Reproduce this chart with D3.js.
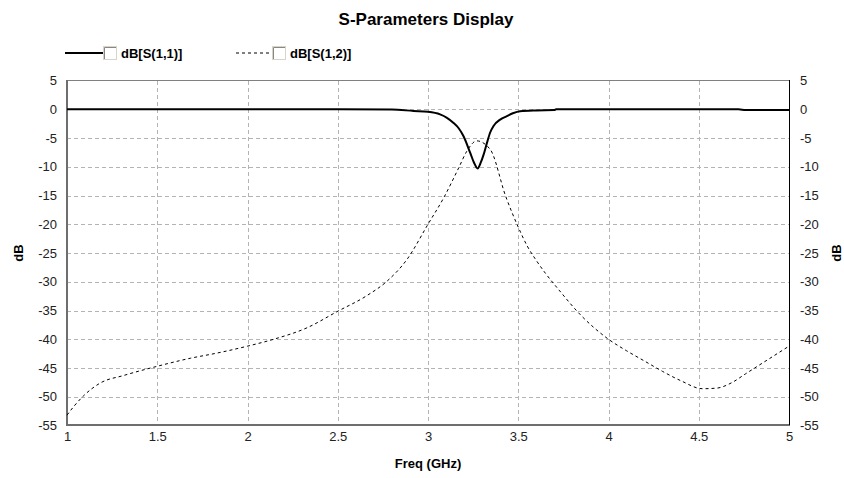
<!DOCTYPE html>
<html>
<head>
<meta charset="utf-8">
<script src="https://cdn.jsdelivr.net/npm/d3@7"></script>
<style>
  body { margin: 0; background: #fff; }
  svg { display: block; font-family: "Liberation Sans", Arial, sans-serif; }
</style>
</head>
<body>
<div id="chart"></div>
<script>
// --- Data ---
const freqTicks = [1, 1.5, 2, 2.5, 3, 3.5, 4, 4.5, 5];
const dbTicks = [5, 0, -5, -10, -15, -20, -25, -30, -35, -40, -45, -50, -55];

const s11Freq = [1.0, 1.5, 2.0, 2.5, 2.8, 2.92, 3.0, 3.067, 3.105, 3.14, 3.17, 3.197, 3.234, 3.255, 3.275, 3.292, 3.308, 3.327, 3.345, 3.363, 3.4, 3.437, 3.47, 3.51, 3.6, 3.7, 3.71, 4.0, 4.5, 4.72, 4.76, 5.0];
const s11Db = [0, 0, 0, 0, -0.05, -0.3, -0.45, -0.9, -1.5, -2.35, -3.3, -4.7, -7.6, -9.3, -10.3, -9.3, -7.9, -5.8, -4.0, -2.9, -1.8, -1.2, -0.7, -0.33, -0.2, -0.15, 0, 0, 0, 0, -0.15, -0.15];

const s12Freq = [1.0, 1.04, 1.093, 1.185, 1.314, 1.5, 1.684, 1.832, 2.0, 2.145, 2.33, 2.496, 2.662, 2.773, 2.884, 3.0, 3.087, 3.17, 3.215, 3.27, 3.345, 3.43, 3.5, 3.55, 3.6, 3.65, 3.73, 3.84, 4.0, 4.1, 4.2, 4.3, 4.4, 4.52, 4.6, 4.68, 4.76, 4.88, 5.0];
const s12Db = [-53.2, -51.6, -49.8, -47.6, -46.3, -44.7, -43.3, -42.4, -41.2, -40.0, -38.0, -35.2, -32.4, -29.9, -26.1, -20.0, -15.4, -10.2, -7.3, -5.5, -7.0, -15.1, -20.5, -23.8, -26.3, -28.5, -31.6, -35.6, -40.0, -42.0, -43.8, -45.6, -47.2, -48.6, -48.5, -47.6, -46.0, -43.6, -41.2];

const seriesNames = ["dB[S(1,1)]", "dB[S(1,2)]"];

// --- Layout ---
const width = 844, height = 478;
const plot = { left: 67, right: 789, top: 80.5, bottom: 425.5 };

const svg = d3.select("#chart").append("svg")
  .attr("width", width)
  .attr("height", height);

const x = d3.scaleLinear().domain([1, 5]).range([plot.left, plot.right]);
const y = d3.scaleLinear().domain([5, -55]).range([plot.top, plot.bottom]);
const fmt = d => String(d); // plain hyphen for negatives

// --- Grid ---
const grid = svg.append("g").attr("stroke", "#b4b4b4").attr("stroke-dasharray", "4,3").attr("shape-rendering", "crispEdges");
grid.selectAll("line.v").data(freqTicks.slice(1, -1)).join("line")
  .attr("class", "v")
  .attr("x1", d => Math.round(x(d)) + 0.5).attr("x2", d => Math.round(x(d)) + 0.5)
  .attr("y1", plot.top).attr("y2", plot.bottom);
grid.selectAll("line.h").data(dbTicks.slice(1, -1)).join("line")
  .attr("class", "h")
  .attr("x1", plot.left).attr("x2", plot.right)
  .attr("y1", d => Math.round(y(d)) + 0.5).attr("y2", d => Math.round(y(d)) + 0.5);

// --- Frame ---
const frame = svg.append("g").attr("shape-rendering", "crispEdges");
frame.append("line").attr("x1", plot.left).attr("x2", plot.right).attr("y1", 80.5).attr("y2", 80.5).attr("stroke", "#808080");
frame.append("line").attr("x1", plot.left - 1).attr("x2", plot.right + 1).attr("y1", 425).attr("y2", 425).attr("stroke", "#6e6e6e").attr("stroke-width", 2);
frame.append("line").attr("x1", plot.left - 0.5).attr("x2", plot.left - 0.5).attr("y1", 80).attr("y2", 425).attr("stroke", "#6e6e6e").attr("stroke-width", 2);
frame.append("line").attr("x1", plot.right + 0.5).attr("x2", plot.right + 0.5).attr("y1", 80).attr("y2", 425).attr("stroke", "#000");

// --- Axes (labels only) ---
const axisFont = g => g.call(s => s.select(".domain").remove())
  .call(s => s.selectAll(".tick line").remove())
  .call(s => s.selectAll("text").attr("font-size", 13).attr("fill", "#222").attr("font-family", "'Liberation Sans', Arial, sans-serif"));

svg.append("g").attr("transform", `translate(${plot.left - 10},0)`)
  .call(d3.axisLeft(y).tickValues(dbTicks).tickSize(0).tickPadding(0).tickFormat(fmt))
  .call(axisFont);
svg.append("g").attr("transform", `translate(${plot.right + 11},0)`)
  .call(d3.axisRight(y).tickValues(dbTicks).tickSize(0).tickPadding(0).tickFormat(fmt))
  .call(axisFont);
svg.append("g").attr("transform", `translate(0,${plot.bottom + 6})`)
  .call(d3.axisBottom(x).tickValues(freqTicks).tickSize(0).tickPadding(0).tickFormat(fmt))
  .call(axisFont);

// --- Titles ---
svg.append("text").attr("x", 426).attr("y", 25).attr("text-anchor", "middle")
  .attr("font-size", 17).attr("font-weight", "bold").text("S-Parameters Display");
svg.append("text").attr("x", 428).attr("y", 468).attr("text-anchor", "middle")
  .attr("font-size", 13).attr("font-weight", "bold").text("Freq (GHz)");
svg.append("text").attr("transform", `translate(23,${(plot.top + plot.bottom) / 2}) rotate(-90)`)
  .attr("text-anchor", "middle").attr("font-size", 13).attr("font-weight", "bold").text("dB");
svg.append("text").attr("transform", `translate(841,${(plot.top + plot.bottom) / 2}) rotate(-90)`)
  .attr("text-anchor", "middle").attr("font-size", 13).attr("font-weight", "bold").text("dB");

// --- Lines ---
const s11 = s11Freq.map((f, i) => [f, s11Db[i]]);
const s12 = s12Freq.map((f, i) => [f, s12Db[i]]);
const line = d3.line().x(d => x(d[0])).y(d => y(d[1])).curve(d3.curveMonotoneX);

svg.append("path").datum(s12).attr("d", line)
  .attr("fill", "none").attr("stroke", "#000").attr("stroke-width", 1).attr("stroke-dasharray", "3,3");
svg.append("path").datum(s11).attr("d", line)
  .attr("fill", "none").attr("stroke", "#000").attr("stroke-width", 2);

// --- Legend ---
const legendItems = [
  { name: seriesNames[0], x: 65, len: 38, dash: null, width: 2 },
  { name: seriesNames[1], x: 236, len: 36, dash: "3,3", width: 1 }
];
const legend = svg.selectAll("g.legend").data(legendItems).join("g")
  .attr("class", "legend")
  .attr("transform", d => `translate(${d.x},53)`);
legend.append("line").attr("x1", 0).attr("x2", d => d.len).attr("y1", 0).attr("y2", 0)
  .attr("stroke", "#000").attr("stroke-width", d => d.width).attr("stroke-dasharray", d => d.dash);
legend.append("rect").attr("x", d => d.len + 0.5).attr("y", -6.5).attr("width", 13).attr("height", 13)
  .attr("fill", "#fff").attr("stroke", "#d8d4cc");
legend.append("path").attr("d", d => `M${d.len + 1.5},6 V-5.5 H${d.len + 13}`).attr("fill", "none").attr("stroke", "#8a8680");
legend.append("text").attr("x", d => d.len + 18).attr("y", 5).attr("font-size", 13).attr("font-weight", "bold").text(d => d.name);
</script>
</body>
</html>
